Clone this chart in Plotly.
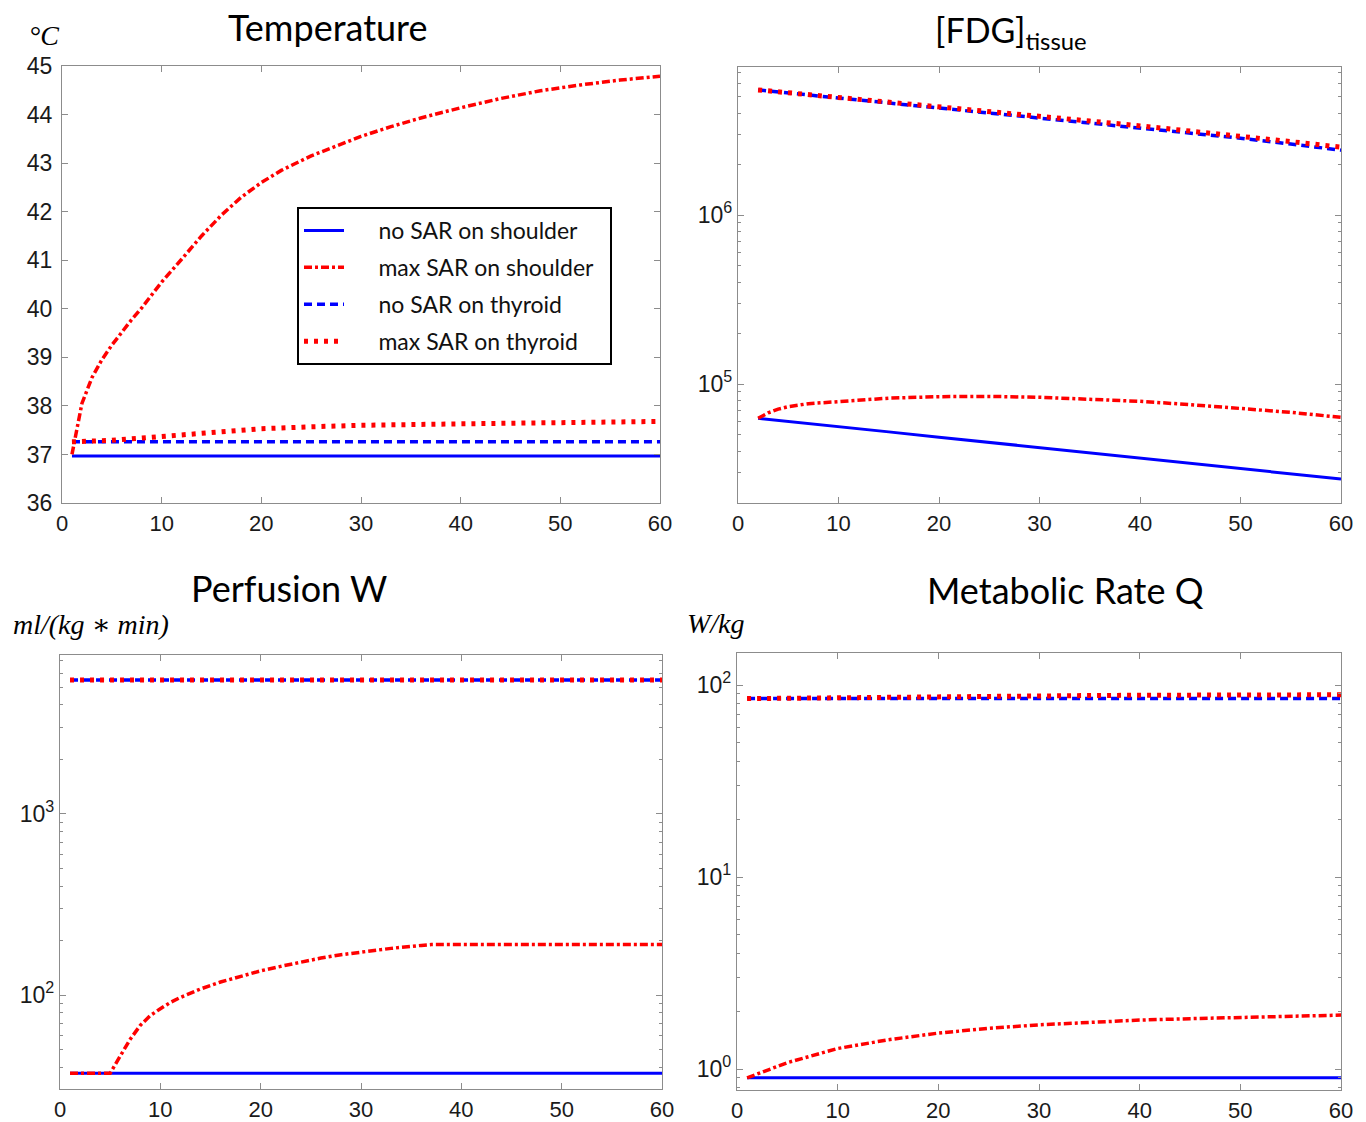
import plotly.graph_objects as go

# ---------------- data ----------------
# Temperature (deg C)
t_temp_shoulder = [1, 2, 3, 4, 5, 6, 7, 8, 10, 12, 14, 16, 18, 20, 22, 25, 28, 30, 33, 36, 40, 44, 48, 52, 56, 60]
temp_max_shoulder = [37.0, 38.05, 38.58, 38.95, 39.25, 39.52, 39.78, 40.02, 40.55, 41.02, 41.5, 41.93, 42.3, 42.6,
                     42.85, 43.15, 43.4, 43.55, 43.75, 43.93, 44.14, 44.33, 44.49, 44.61, 44.71, 44.79]
t_temp_flat = [1, 60]
temp_no_shoulder = [36.97, 36.97]
temp_no_thyroid = [37.26, 37.26]
t_temp_thyroid = [1, 5, 10, 15, 20, 25, 30, 40, 50, 60]
temp_max_thyroid = [37.26, 37.29, 37.37, 37.46, 37.53, 37.57, 37.6, 37.63, 37.65, 37.68]

# FDG tissue
t_fdg = [2, 5, 10, 15, 20, 25, 30, 35, 40, 45, 50, 55, 60]
fdg_no_shoulder = [6.27e4, 6.02e4, 5.59e4, 5.21e4, 4.85e4, 4.52e4, 4.21e4, 3.92e4, 3.65e4, 3.4e4, 3.16e4, 2.94e4, 2.74e4]
fdg_no_thyroid = [5.5e6, 5.28e6, 4.93e6, 4.6e6, 4.3e6, 4.02e6, 3.75e6, 3.5e6, 3.27e6, 3.05e6, 2.85e6, 2.63e6, 2.42e6]
fdg_max_thyroid = [5.5e6, 5.3e6, 4.97e6, 4.66e6, 4.37e6, 4.1e6, 3.84e6, 3.6e6, 3.37e6, 3.15e6, 2.94e6, 2.72e6, 2.52e6]
t_fdg_shoulder = [2, 3, 4, 5, 7, 10, 15, 20, 25, 30, 35, 40, 45, 50, 55, 60]
fdg_max_shoulder = [6.27e4, 6.75e4, 7.1e4, 7.35e4, 7.65e4, 7.9e4, 8.25e4, 8.42e4, 8.45e4, 8.35e4, 8.15e4,
                    7.9e4, 7.55e4, 7.2e4, 6.8e4, 6.35e4]

# Perfusion W (ml/(kg*min))
t_perf_flat = [1, 60]
perf_no_shoulder = [37, 37]
perf_no_thyroid = [5500, 5500]
perf_max_thyroid = [5500, 5500]
t_perf_shoulder = [1, 5, 6, 7, 8, 9, 10, 11, 12, 14, 16, 18, 20, 22, 24, 26, 28, 30, 33, 36, 37, 40, 50, 60]
perf_max_shoulder = [37, 37, 46, 57, 68, 77, 84, 91, 97, 108, 118, 127, 136, 144, 152, 160, 167, 173, 181, 188, 190, 190, 190, 190]

# Metabolic rate Q (W/kg)
t_met_flat = [1, 60]
met_no_shoulder = [0.9, 0.9]
t_met = [1, 5, 10, 15, 20, 25, 30, 35, 40, 45, 50, 55, 60]
met_max_shoulder = [0.9, 1.08, 1.28, 1.42, 1.54, 1.63, 1.7, 1.75, 1.8, 1.83, 1.86, 1.88, 1.91]
met_no_thyroid = [85, 85, 85, 85, 85, 85, 85, 85, 85, 85, 85, 85, 85]
met_max_thyroid = [85, 85.5, 86, 86.5, 87, 87.5, 88, 88.2, 88.5, 88.7, 88.9, 89, 89]

x_ticks = [0, 10, 20, 30, 40, 50, 60]
temp_ticks = [36, 37, 38, 39, 40, 41, 42, 43, 44, 45]
log_tickvals = [1, 10, 100, 1000, 1e4, 1e5, 1e6, 1e7]
log_ticktext = ["10<sup>0</sup>", "10<sup>1</sup>", "10<sup>2</sup>", "10<sup>3</sup>",
                "10<sup>4</sup>", "10<sup>5</sup>", "10<sup>6</sup>", "10<sup>7</sup>"]

legend_names = ["no SAR on shoulder", "max SAR on shoulder", "no SAR on thyroid", "max SAR on thyroid"]

# ---------------- styles ----------------
BLUE = "#0000ff"
RED = "#ff0000"
styles = [
    dict(color=BLUE, width=3, dash="solid"),
    dict(color=RED, width=3.5, dash="8px,3px,3px,3px"),
    dict(color=BLUE, width=3.5, dash="8px,5px"),
    dict(color=RED, width=5, dash="4px,6px"),
]
NB = "\u00a0"

fig = go.Figure()

panels = [
    ("x", "y", [(t_temp_flat, temp_no_shoulder), (t_temp_shoulder, temp_max_shoulder),
                (t_temp_flat, temp_no_thyroid), (t_temp_thyroid, temp_max_thyroid)]),
    ("x2", "y2", [(t_fdg, fdg_no_shoulder), (t_fdg_shoulder, fdg_max_shoulder),
                  (t_fdg, fdg_no_thyroid), (t_fdg, fdg_max_thyroid)]),
    ("x3", "y3", [(t_perf_flat, perf_no_shoulder), (t_perf_shoulder, perf_max_shoulder),
                  (t_perf_flat, perf_no_thyroid), (t_perf_flat, perf_max_thyroid)]),
    ("x4", "y4", [(t_met_flat, met_no_shoulder), (t_met, met_max_shoulder),
                  (t_met, met_no_thyroid), (t_met, met_max_thyroid)]),
]

for pi, (xa, ya, series) in enumerate(panels):
    for si, (tx, vy) in enumerate(series):
        fig.add_trace(go.Scatter(
            x=tx, y=vy, mode="lines", xaxis=xa, yaxis=ya,
            name=NB * 5 + legend_names[si] + NB * 2, legendgroup=legend_names[si],
            showlegend=(pi == 0), line=styles[si],
        ))

# body margin is removed by the post script, so the figure fills the window exactly
W, H = 1366, 1122

def px(X):
    return X / W

def py(Y):
    return 1 - Y / H

def xd(a, b):
    return [px(a), px(b)]

def yd(top, bot):
    return [py(bot), py(top)]

AX_COLOR = "#8c8c8c"
tick_font = dict(family="Liberation Sans, Arial, sans-serif", size=23, color="#1a1a1a")
xtick_font = dict(family="Liberation Sans, Arial, sans-serif", size=22, color="#1a1a1a")

def xaxis_cfg(dom, anchor):
    return dict(domain=dom, anchor=anchor, range=[0, 60], tickvals=x_ticks, automargin=False,
                showline=True, linecolor=AX_COLOR, linewidth=1.2, mirror="ticks",
                ticks="inside", ticklen=6, tickcolor=AX_COLOR, showgrid=False, zeroline=False,
                tickfont=xtick_font, ticklabelstandoff=0)

def ylog_cfg(dom, anchor, rng):
    return dict(domain=dom, anchor=anchor, type="log", range=rng, automargin=False,
                tickvals=log_tickvals, ticktext=log_ticktext,
                showline=True, linecolor=AX_COLOR, linewidth=1.2,
                mirror="ticks", ticks="inside", ticklen=6, tickcolor=AX_COLOR,
                minor=dict(ticks="inside", ticklen=3, tickcolor=AX_COLOR, dtick="D1"),
                showgrid=False, zeroline=False, tickfont=tick_font, ticklabelstandoff=0)

fig.update_layout(
    width=W, height=H, margin=dict(l=0, r=0, t=0, b=0, autoexpand=False),
    paper_bgcolor="white", plot_bgcolor="white",
    xaxis=xaxis_cfg(xd(62, 660), "y"),
    yaxis=dict(domain=yd(66, 503), anchor="x", range=[36, 45], tickvals=temp_ticks, automargin=False,
               showline=True, linecolor=AX_COLOR, linewidth=1.2, mirror="ticks",
               ticks="inside", ticklen=6, tickcolor=AX_COLOR, showgrid=False, zeroline=False,
               tickfont=tick_font, ticklabelstandoff=4),
    xaxis2=xaxis_cfg(xd(738, 1341), "y2"),
    yaxis2=ylog_cfg(yd(67, 503), "x2", [4.296, 6.876]),
    xaxis3=xaxis_cfg(xd(60, 662), "y3"),
    yaxis3=ylog_cfg(yd(655, 1089), "x3", [1.481, 3.878]),
    xaxis4=xaxis_cfg(xd(737, 1341), "y4"),
    yaxis4=ylog_cfg(yd(653, 1090), "x4", [-0.109, 2.167]),
    legend=dict(x=px(297), y=py(207), xanchor="left", yanchor="top",
                bgcolor="white", bordercolor="black", borderwidth=2,
                font=dict(family="Lato, sans-serif", size=23, color="#111"),
                itemwidth=40, tracegroupgap=4, traceorder="grouped"),
    showlegend=True,
)

title_font = dict(family="Lato, sans-serif", size=36, color="black")
fdg_font = dict(family="Lato, sans-serif", size=34, color="black")
unit_font = dict(family="Liberation Serif, DejaVu Serif, serif", size=28, color="black")

annots = [
    dict(text="Temperature", x=px(328), y=py(27), font=title_font),
    dict(text="[FDG]<sub>tissue</sub>", x=px(1011), y=py(32), font=fdg_font),
    dict(text="Perfusion W", x=px(289), y=py(588), font=title_font),
    dict(text="Metabolic Rate Q", x=px(1065), y=py(590), font=title_font),
    dict(text="<i>°C</i>", x=px(44), y=py(35), font=unit_font),
    dict(text="<i>ml/(kg ∗ min)</i>", x=px(91), y=py(624), font=unit_font),
    dict(text="<i>W/kg</i>", x=px(716), y=py(623), font=unit_font),
]
for a in annots:
    fig.add_annotation(xref="paper", yref="paper", xanchor="center", yanchor="middle",
                       showarrow=False, **a)

fig.write_html("out.html", config={"displayModeBar": False},
               post_script="document.body.style.margin='0px';document.body.style.overflow='hidden';")
